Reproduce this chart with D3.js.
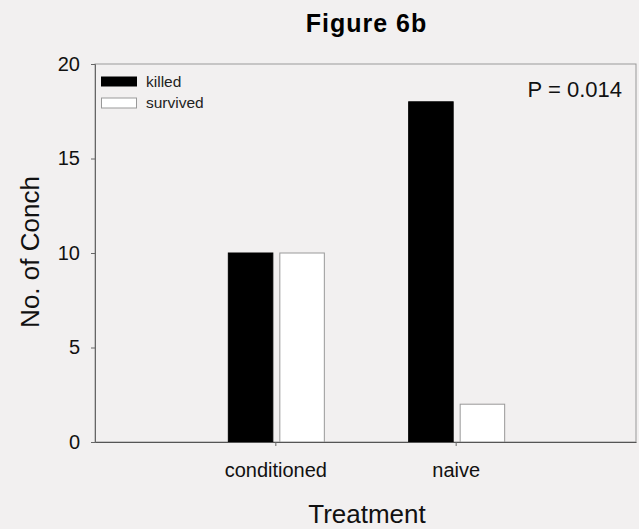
<!DOCTYPE html>
<html><head><meta charset="utf-8">
<script src="https://cdn.jsdelivr.net/npm/d3@7"></script>
<style>body{margin:0;background:#f2f0f0;}svg{display:block;}</style>
</head><body>
<script>
const categories = ["conditioned", "naive"];
const series = ["killed", "survived"];
const killed = [10, 18];
const survived = [10, 2];
const yTicks = [0, 5, 10, 15, 20];

const W = 639, H = 529;
const m = {left: 95, right: 3, top: 64, bottom: 87};
const svg = d3.select("body").append("svg").attr("width", W).attr("height", H)
  .style("font-family", "Arial, 'Liberation Sans', sans-serif");
svg.append("rect").attr("width", W).attr("height", H).attr("fill", "#f2f0f0");

const x = d3.scalePoint().domain(["_a", ...categories, "_b"]).range([m.left, W - m.right]);
const y = d3.scaleLinear().domain([0, 20]).range([H - m.bottom, m.top]);
const sub = d3.scaleBand().domain(series).range([-47, 49]).paddingInner(0.136);

// frame
svg.append("rect").attr("x", m.left).attr("y", m.top)
  .attr("width", W - m.right - m.left).attr("height", H - m.bottom - m.top)
  .attr("fill", "none").attr("stroke", "#999").attr("stroke-width", 1);

// bars
const data = categories.map((c, i) => ({c, vals: [killed[i], survived[i]]}));
const g = svg.append("g");
data.forEach(d => {
  series.forEach((s, j) => {
    g.append("rect")
      .attr("x", x(d.c) + sub(s))
      .attr("y", y(d.vals[j]))
      .attr("width", sub.bandwidth())
      .attr("height", y(0) - y(d.vals[j]))
      .attr("fill", j === 0 ? "#000" : "#fff")
      .attr("stroke", j === 0 ? "#000" : "#999")
      .attr("stroke-width", 1);
  });
});

// y axis
const ya = svg.append("g").attr("transform", `translate(${m.left},0)`)
  .call(d3.axisLeft(y).tickValues(yTicks).tickSize(4).tickPadding(11));
ya.select(".domain").attr("stroke", "#666");
ya.selectAll(".tick line").attr("stroke", "#666");
ya.selectAll("text").attr("font-size", 20).attr("fill", "#111");

// x axis
const xa = svg.append("g").attr("transform", `translate(0,${H - m.bottom})`)
  .call(d3.axisBottom(x).tickValues(categories).tickSize(4).tickPadding(17).tickSizeOuter(0));
xa.select(".domain").attr("stroke", "#555");
xa.selectAll(".tick line").attr("stroke", "#666");
xa.selectAll("text").attr("font-size", 20).attr("fill", "#111");

// titles
svg.append("text").attr("x", 366.5).attr("y", 32).attr("text-anchor", "middle")
  .attr("font-size", 25).attr("font-weight", "bold").attr("letter-spacing", 1).text("Figure 6b");
svg.append("text").attr("x", 367).attr("y", 523).attr("text-anchor", "middle")
  .attr("font-size", 26).attr("fill", "#111").text("Treatment");
svg.append("text").attr("transform", "translate(39,252) rotate(-90)").attr("text-anchor", "middle")
  .attr("font-size", 26).attr("fill", "#111").text("No. of Conch");
svg.append("text").attr("x", 622).attr("y", 97).attr("text-anchor", "end")
  .attr("font-size", 22).attr("fill", "#111").text("P = 0.014");

// legend
const lg = svg.append("g");
series.forEach((s, j) => {
  lg.append("rect").attr("x", 101.5).attr("y", j === 0 ? 77 : 98).attr("width", 35).attr("height", j === 0 ? 9 : 10)
    .attr("fill", j === 0 ? "#000" : "#fff").attr("stroke", j === 0 ? "#000" : "#999");
  lg.append("text").attr("x", 146).attr("y", j === 0 ? 87 : 107.5).attr("font-size", 15.5).attr("fill", "#222").text(s);
});
</script>
</body></html>
